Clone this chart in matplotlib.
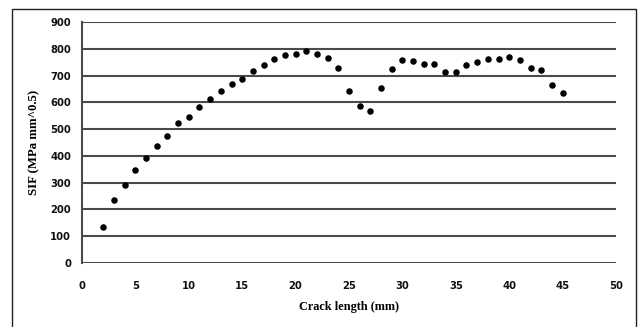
import matplotlib
matplotlib.use('Agg')
import matplotlib.pyplot as plt
from matplotlib.patches import Rectangle

# crack length (mm) and stress intensity factor (MPa mm^0.5)
crack_length = [2, 3, 4, 5, 6, 7, 8, 9, 10, 11, 12, 13, 14, 15, 16, 17, 18, 19, 20,
                21, 22, 23, 24, 25, 26, 27, 28, 29, 30, 31, 32, 33, 34, 35, 36, 37,
                38, 39, 40, 41, 42, 43, 44, 45]
sif = [134, 236, 292, 346, 392, 436, 473, 521, 546, 581, 611, 642, 667, 689, 717,
       738, 760, 775, 781, 791, 782, 764, 729, 642, 588, 567, 654, 724, 759, 755,
       745, 742, 715, 715, 738, 752, 763, 760, 769, 757, 730, 720, 665, 634]

x_ticks = [0, 5, 10, 15, 20, 25, 30, 35, 40, 45, 50]
y_ticks = [0, 100, 200, 300, 400, 500, 600, 700, 800, 900]

fig = plt.figure(figsize=(6.38, 3.27), dpi=100)
ax = fig.add_axes([82 / 638, 1 - 263 / 327, 534 / 638, 241 / 327])

# outer frame of the chart
fig.patches.append(Rectangle((12 / 638, -0.1), 624 / 638, 1 - 9 / 327 + 0.1,
                             transform=fig.transFigure, fill=False,
                             edgecolor='#222222', linewidth=1.0))

for yv in y_ticks:
    ax.axhline(yv, color='#4a4a4a', linewidth=1.5, zorder=1)

ax.scatter(crack_length, sif, s=22, color='black', zorder=3, linewidths=0)

ax.set_xlim(0, 50)
ax.set_ylim(0, 900)
ax.set_xticks(x_ticks)
ax.set_yticks(y_ticks)

for side in ['top', 'right', 'bottom']:
    ax.spines[side].set_visible(False)
ax.spines['left'].set_color('#4a4a4a')
ax.spines['left'].set_linewidth(1.5)

ax.tick_params(length=0, labelsize=7.2)
ax.tick_params(axis='x', pad=13)
ax.tick_params(axis='y', pad=8)
for lab in ax.get_xticklabels() + ax.get_yticklabels():
    lab.set_fontweight('bold')
    lab.set_color('#111111')

ax.set_xlabel('Crack length (mm)', family='Liberation Serif', fontweight='bold',
              fontsize=8.8, labelpad=7)
ax.set_ylabel('SIF (MPa mm^0.5)', family='Liberation Serif', fontweight='bold',
              fontsize=9.2, labelpad=7)

plt.savefig('out.png', dpi=100)
